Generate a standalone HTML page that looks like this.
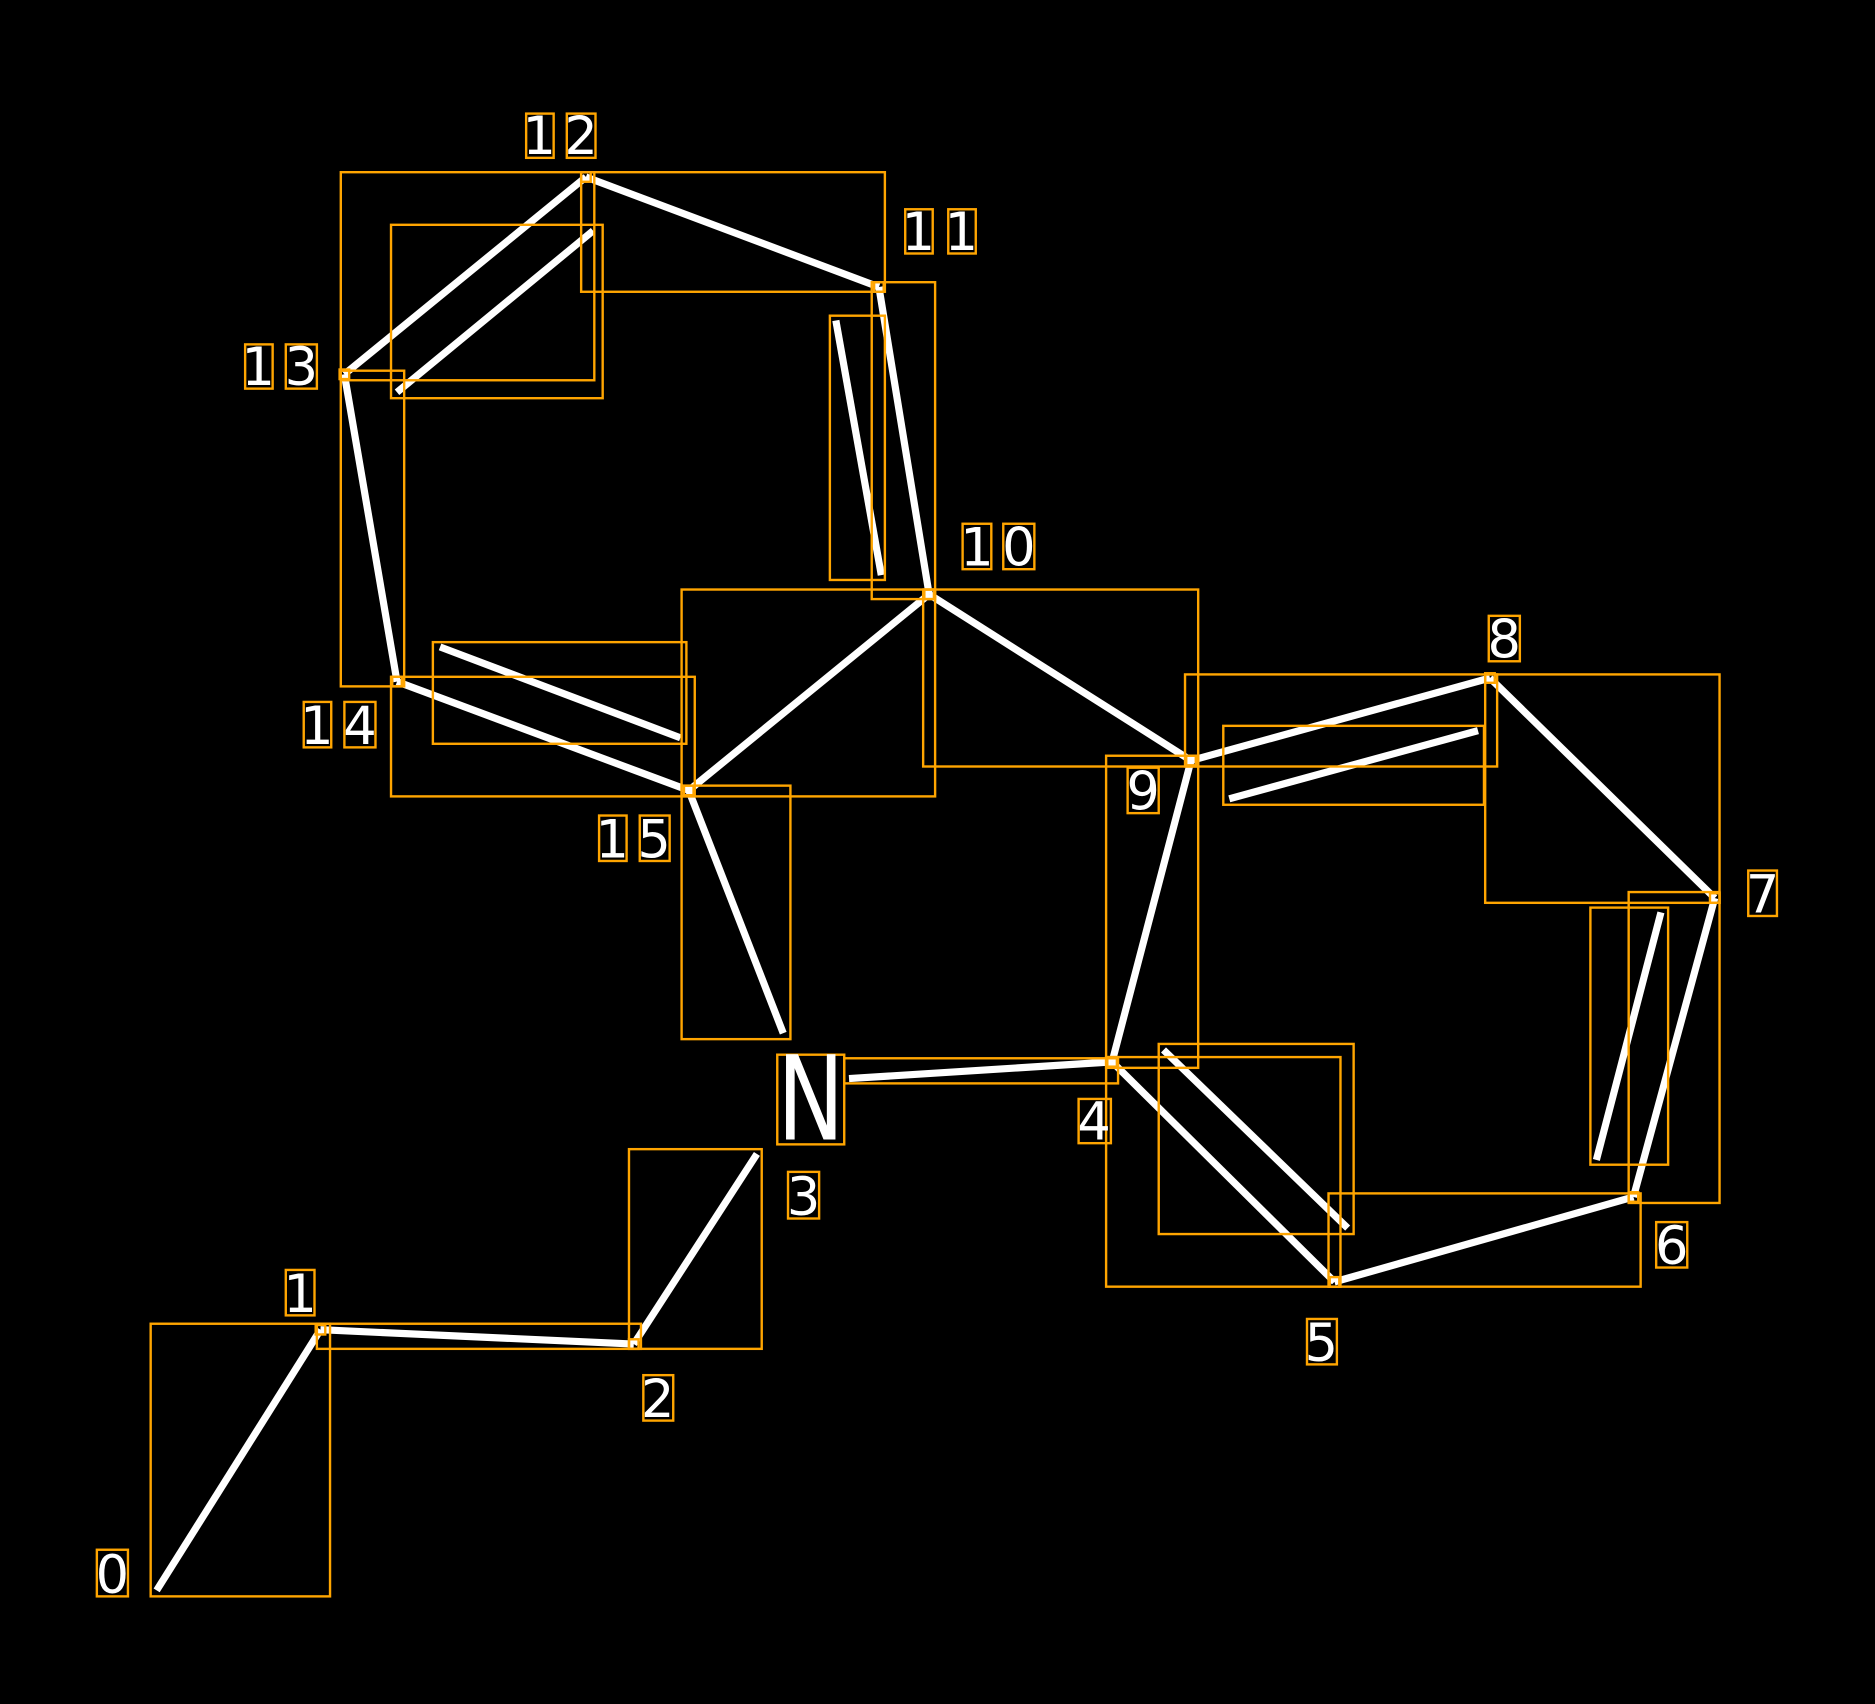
<!DOCTYPE html>
<html><head><style>html,body{margin:0;padding:0;background:#000}svg{display:block}</style></head>
<body>
<svg width="1875" height="1704" viewBox="0 0 1568 1425" preserveAspectRatio="none" xmlns="http://www.w3.org/2000/svg">
<rect width="1568" height="1425" fill="#000"/>
<g stroke="#fff" stroke-width="6" fill="none">
<line x1="131" y1="1330" x2="268" y2="1112"/>
<line x1="268" y1="1112" x2="530" y2="1124"/>
<line x1="530" y1="1124" x2="633" y2="965"/>
<line x1="710" y1="902" x2="930" y2="888"/>
<line x1="930" y1="888" x2="1116" y2="1072"/>
<line x1="973" y1="878" x2="1127" y2="1027"/>
<line x1="1116" y1="1072" x2="1366" y2="1001"/>
<line x1="1366" y1="1001" x2="1434" y2="751"/>
<line x1="1335" y1="970" x2="1389" y2="763"/>
<line x1="1434" y1="751" x2="1246" y2="567"/>
<line x1="1246" y1="567" x2="996" y2="636"/>
<line x1="1028" y1="668" x2="1236" y2="611"/>
<line x1="996" y1="636" x2="930" y2="888"/>
<line x1="996" y1="636" x2="777" y2="497"/>
<line x1="777" y1="497" x2="735" y2="240"/>
<line x1="737" y1="481" x2="699" y2="268"/>
<line x1="735" y1="240" x2="490" y2="148"/>
<line x1="490" y1="148" x2="288" y2="313"/>
<line x1="332" y1="328" x2="496" y2="193"/>
<line x1="288" y1="313" x2="332" y2="570"/>
<line x1="332" y1="570" x2="576" y2="661"/>
<line x1="368" y1="541" x2="569" y2="617"/>
<line x1="576" y1="661" x2="777" y2="497"/>
<line x1="576" y1="661" x2="655" y2="864"/>
</g>
<g stroke="#FFA500" stroke-width="2" fill="none">
<rect x="126" y="1107" width="150" height="228"/>
<rect x="265" y="1107" width="271" height="21"/>
<rect x="526" y="961" width="111" height="167"/>
<rect x="650" y="882" width="56" height="75"/>
<rect x="706" y="885" width="229" height="21"/>
<rect x="925" y="884" width="196" height="192"/>
<rect x="969" y="873" width="163" height="159"/>
<rect x="1111" y="998" width="261" height="78"/>
<rect x="1330" y="759" width="65" height="215"/>
<rect x="1362" y="746" width="76" height="260"/>
<rect x="1242" y="564" width="196" height="191"/>
<rect x="991" y="564" width="261" height="77"/>
<rect x="1023" y="607" width="218" height="66"/>
<rect x="925" y="632" width="77" height="261"/>
<rect x="772" y="493" width="230" height="148"/>
<rect x="729" y="236" width="53" height="265"/>
<rect x="694" y="264" width="46" height="221"/>
<rect x="486" y="144" width="254" height="100"/>
<rect x="285" y="144" width="212" height="174"/>
<rect x="327" y="188" width="177" height="145"/>
<rect x="285" y="310" width="53" height="264"/>
<rect x="327" y="566" width="254" height="100"/>
<rect x="362" y="537" width="212" height="85"/>
<rect x="570" y="493" width="212" height="173"/>
<rect x="570" y="657" width="91" height="212"/>
<rect x="264" y="1108" width="8" height="8"/><rect x="526" y="1120" width="8" height="8"/>
<rect x="926" y="884" width="8" height="8"/><rect x="1112" y="1068" width="8" height="8"/>
<rect x="1362" y="997" width="8" height="8"/><rect x="1430" y="747" width="8" height="8"/>
<rect x="1242" y="563" width="8" height="8"/><rect x="992" y="632" width="8" height="8"/>
<rect x="773" y="493" width="8" height="8"/><rect x="731" y="236" width="8" height="8"/>
<rect x="486" y="144" width="8" height="8"/><rect x="284" y="309" width="8" height="8"/>
<rect x="328" y="566" width="8" height="8"/><rect x="572" y="657" width="8" height="8"/>
<!-- label boxes -->
<rect x="81" y="1296" width="26" height="39"/>
<rect x="239" y="1062" width="24" height="38"/>
<rect x="538" y="1150" width="25" height="38"/>
<rect x="659" y="980" width="26" height="39"/>
<rect x="902" y="919" width="27" height="37"/>
<rect x="1093" y="1103" width="25" height="38"/>
<rect x="1385" y="1022" width="26" height="38"/>
<rect x="1462" y="728" width="24" height="38"/>
<rect x="1245" y="515" width="26" height="38"/>
<rect x="943" y="642" width="26" height="38"/>
<rect x="805" y="438" width="24" height="38"/><rect x="839" y="438" width="26" height="38"/>
<rect x="757" y="175" width="23" height="37"/><rect x="793" y="175" width="23" height="37"/>
<rect x="440" y="95" width="23" height="37"/><rect x="474" y="95" width="24" height="37"/>
<rect x="205" y="288" width="23" height="37"/><rect x="239" y="288" width="26" height="37"/>
<rect x="254" y="587" width="23" height="38"/><rect x="288" y="587" width="26" height="38"/>
<rect x="501" y="682" width="23" height="38"/><rect x="535" y="682" width="25" height="38"/>
</g>
<g fill="#fff" font-family="'DejaVu Sans','Liberation Sans',sans-serif" font-size="44" text-anchor="middle">
<text x="94" y="1332">0</text>
<text x="251" y="1097">1</text>
<text x="550" y="1185">2</text>
<text x="672" y="1016">3</text>
<text x="915" y="953">4</text>
<text x="1105" y="1138">5</text>
<text x="1398" y="1057">6</text>
<text x="1474" y="763">7</text>
<text x="1258" y="550">8</text>
<text x="956" y="677">9</text>
<text x="817" y="473">1</text><text x="852" y="473">0</text>
<text x="768" y="209">1</text><text x="804" y="209">1</text>
<text x="451" y="129">1</text><text x="486" y="129">2</text>
<text x="216" y="322">1</text><text x="252" y="322">3</text>
<text x="265" y="622">1</text><text x="301" y="622">4</text>
<text x="512" y="717">1</text><text x="547" y="717">5</text>
<text x="678" y="953" font-size="98" textLength="56" lengthAdjust="spacingAndGlyphs">N</text>
</g>
</svg>
</body></html>
